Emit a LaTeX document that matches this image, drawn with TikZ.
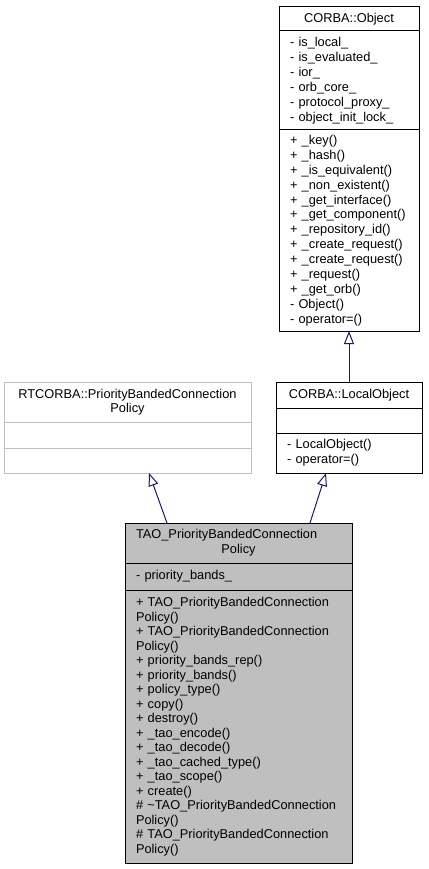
\documentclass[tikz,border=0pt]{standalone}
\usepackage{fontspec}
\setmainfont{Liberation Sans}
\usetikzlibrary{arrows.meta,calc}
\definecolor{edgeblue}{HTML}{191970}
\definecolor{greyfill}{HTML}{BFBFBF}
\definecolor{greyline}{HTML}{BFBFBF}
\tikzset{
  sec/.style={draw, line width=1pt, anchor=north west, outer sep=0pt,
    inner xsep=11pt, inner ysep=0pt, align=left,
    font=\fontsize{12.8}{15}\selectfont},
  ttl/.style={sec, align=center},
  inh/.style={draw=edgeblue, line width=1pt,
    -{Triangle[open, length=13pt, width=10pt]}},
}
\begin{document}
\begin{tikzpicture}[x=1pt,y=1pt]
\useasboundingbox (0,0) rectangle (428,-869);
% CORBA::Object
\node[ttl, text width=118pt, minimum height=24pt] (objT) at (279,-7) {CORBA::Object};
\node[sec, text width=118pt, minimum height=99pt] (objA) at (279,-31)
  {- is\_local\_\\- is\_evaluated\_\\- ior\_\\- orb\_core\_\\- protocol\_proxy\_\\- object\_init\_lock\_};
\node[sec, text width=118pt, minimum height=201pt,
  font=\fontsize{12.8}{14.9}\selectfont] (objM) at (279,-130)
  {+ \_key()\\+ \_hash()\\+ \_is\_equivalent()\\+ \_non\_existent()\\+ \_get\_interface()\\+ \_get\_component()\\+ \_repository\_id()\\+ \_create\_request()\\+ \_create\_request()\\+ \_request()\\+ \_get\_orb()\\- Object()\\- operator=()};
% RTCORBA::PriorityBandedConnectionPolicy
\node[ttl, draw=greyline, text width=225pt, minimum height=40pt,
  font=\fontsize{12.8}{14.5}\selectfont] (rtT) at (4,-382)
  {RTCORBA::PriorityBandedConnection\\Policy};
\node[sec, draw=greyline, text width=225pt, minimum height=26pt] (rtA) at (4,-422) {};
\node[sec, draw=greyline, text width=225pt, minimum height=25pt] (rtM) at (4,-448) {};
% CORBA::LocalObject
\node[ttl, text width=124pt, minimum height=26pt] (loT) at (276,-382) {CORBA::LocalObject};
\node[sec, text width=124pt, minimum height=25pt] (loA) at (276,-408) {};
\node[sec, text width=124pt, minimum height=40pt] (loM) at (276,-433)
  {- LocalObject()\\- operator=()};
% TAO_PriorityBandedConnectionPolicy
\node[ttl, fill=greyfill, text width=205pt, minimum height=40pt] (taoT) at (125,-523)
  {TAO\_PriorityBandedConnection\hfill\null\\Policy};
\node[sec, fill=greyfill, text width=205pt, minimum height=27pt] (taoA) at (125,-563)
  {- priority\_bands\_};
\node[sec, fill=greyfill, text width=205pt, minimum height=273pt,
  font=\fontsize{12.8}{14.5}\selectfont] (taoM) at (125,-590)
  {+ TAO\_PriorityBandedConnection\\Policy()\\+ TAO\_PriorityBandedConnection\\Policy()\\+ priority\_bands\_rep()\\+ priority\_bands()\\+ policy\_type()\\+ copy()\\+ destroy()\\+ \_tao\_encode()\\+ \_tao\_decode()\\+ \_tao\_cached\_type()\\+ \_tao\_scope()\\+ create()\\\# \textasciitilde TAO\_PriorityBandedConnection\\Policy()\\\# TAO\_PriorityBandedConnection\\Policy()};
% inheritance
\draw[inh] ($(taoT.north west)+(42,0)$) -- ($(rtM.south west)+(145,0)$);
\draw[inh] ($(taoT.north west)+(185,0)$) -- ($(loM.south west)+(50,0)$);
\draw[inh] (loT.north) -- (objM.south);
\end{tikzpicture}
\end{document}
